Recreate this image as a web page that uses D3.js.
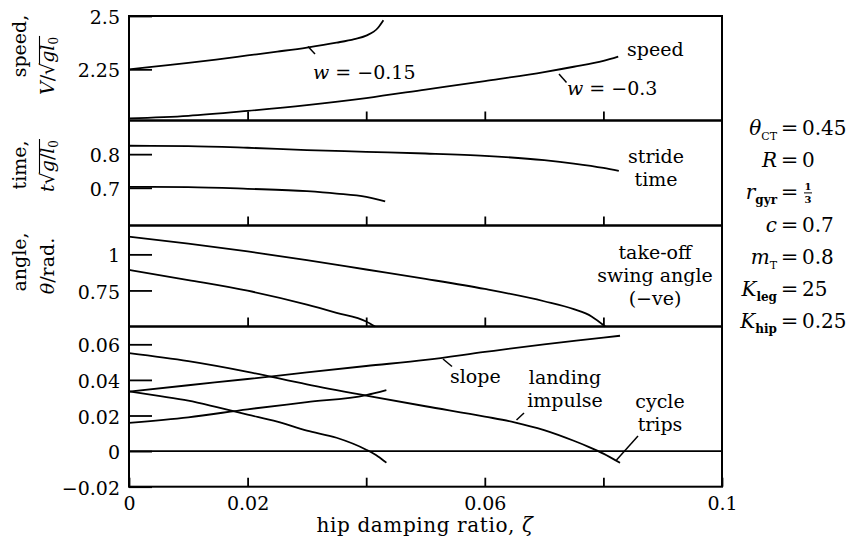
<!DOCTYPE html>
<html lang="en">
<head>
<meta charset="UTF-8">
<title>hip damping ratio</title>
<style>
  body { margin: 0; background: #fff; }
  text { font-family: "DejaVu Serif", serif; fill: #000; }
</style>
</head>
<body>
<div id="chart"></div>
<script src="https://d3js.org/d3.v7.min.js"></script>
<script>
// speed, w = -0.15 and w = -0.3
const zetaSpeed15 = [0, 0.005, 0.01, 0.015, 0.02, 0.025, 0.03, 0.035, 0.038, 0.04, 0.042, 0.0429];
const speed15     = [2.25, 2.265, 2.28, 2.297, 2.315, 2.333, 2.352, 2.375, 2.392, 2.408, 2.445, 2.48];
const zetaSpeed30 = [0, 0.01, 0.02, 0.03, 0.04, 0.05, 0.06, 0.07, 0.075, 0.08, 0.0825];
const speed30     = [2.02, 2.032, 2.055, 2.082, 2.115, 2.155, 2.195, 2.237, 2.262, 2.29, 2.31];

// stride time
const zetaTime30 = [0, 0.01, 0.02, 0.03, 0.04, 0.05, 0.06, 0.07, 0.075, 0.08, 0.0826];
const time30     = [0.825, 0.824, 0.819, 0.812, 0.807, 0.802, 0.795, 0.782, 0.772, 0.759, 0.75];
const zetaTime15 = [0, 0.01, 0.02, 0.03, 0.035, 0.04, 0.0432];
const time15     = [0.703, 0.702, 0.697, 0.69, 0.683, 0.673, 0.66];

// take-off swing angle
const zetaAngle30 = [0, 0.01, 0.02, 0.03, 0.04, 0.05, 0.06, 0.07, 0.075, 0.078, 0.0803];
const angle30     = [1.123, 1.075, 1.02, 0.96, 0.895, 0.83, 0.76, 0.675, 0.62, 0.57, 0.5];
const zetaAngle15 = [0, 0.01, 0.02, 0.03, 0.035, 0.04, 0.0415];
const angle15     = [0.892, 0.822, 0.748, 0.652, 0.595, 0.535, 0.5];

// landing impulse and slope
const zetaImpulse30 = [0, 0.01, 0.02, 0.03, 0.04, 0.05, 0.06, 0.065, 0.07, 0.075, 0.0775, 0.08, 0.0828];
const impulse30     = [0.055, 0.0505, 0.0445, 0.0375, 0.0312, 0.0252, 0.0194, 0.0162, 0.0118, 0.0058, 0.0024, -0.0014, -0.0066];
const zetaSlope30 = [0, 0.01, 0.02, 0.03, 0.04, 0.05, 0.06, 0.07, 0.08, 0.0828];
const slope30     = [0.0334, 0.037, 0.0405, 0.0442, 0.0478, 0.0512, 0.0557, 0.06, 0.0637, 0.0648];
const zetaImpulse15 = [0, 0.005, 0.01, 0.015, 0.02, 0.025, 0.03, 0.035, 0.04, 0.042, 0.0434];
const impulse15     = [0.0335, 0.031, 0.0283, 0.0245, 0.0205, 0.0165, 0.0115, 0.0075, 0.0008, -0.003, -0.0065];
const zetaSlope15 = [0, 0.01, 0.02, 0.03, 0.04, 0.0434];
const slope15     = [0.0158, 0.019, 0.0235, 0.0275, 0.0315, 0.0343];

// ticks
const speedTicks = [2.25, 2.5];
const timeTicks = [0.7, 0.8];
const angleTicks = [0.75, 1];
const impulseTicks = [-0.02, 0, 0.02, 0.04, 0.06];
const zetaTicks = [0, 0.02, 0.04, 0.06, 0.08, 0.1];
const zetaLabels = [0, 0.02, 0.06, 0.1];

const W = 854, H = 544;
const svg = d3.select("#chart").append("svg")
    .attr("width", W).attr("height", H);

const x = d3.scaleLinear().domain([0, 0.1]).range([129, 722]);

const panels = [
  {top: 16,    bottom: 120.5, domain: [2.01, 2.5],   ticks: speedTicks},
  {top: 120.5, bottom: 225.5, domain: [0.588, 0.9],  ticks: timeTicks},
  {top: 225.5, bottom: 326.5, domain: [0.5, 1.2],    ticks: angleTicks},
  {top: 326.5, bottom: 486.7, domain: [-0.02, 0.07], ticks: impulseTicks}
];
panels.forEach(p => { p.y = d3.scaleLinear().domain(p.domain).range([p.bottom, p.top]); });

const series = [
  [0, zetaSpeed15, speed15], [0, zetaSpeed30, speed30],
  [1, zetaTime30, time30], [1, zetaTime15, time15],
  [2, zetaAngle30, angle30], [2, zetaAngle15, angle15],
  [3, zetaImpulse30, impulse30], [3, zetaSlope30, slope30],
  [3, zetaImpulse15, impulse15], [3, zetaSlope15, slope15]
];

const fmt = d => String(d).replace("-", "\u2212");

panels.forEach((p, i) => {
  // y ticks, drawn inward
  const gy = svg.append("g")
      .attr("transform", `translate(${x(0)},0)`)
      .call(d3.axisLeft(p.y).tickValues(p.ticks).tickSize(-23).tickPadding(9).tickFormat(fmt));
  gy.select(".domain").remove();
  gy.selectAll("line").attr("stroke-width", 1.8);
  gy.selectAll("text").attr("font-family", "DejaVu Serif").attr("font-size", 19).attr("dy", "0.4em");

  // x ticks at the bottom of every panel
  const last = i === panels.length - 1;
  const gx = svg.append("g")
      .attr("transform", `translate(0,${p.bottom})`)
      .call(d3.axisBottom(x).tickValues(last ? zetaTicks : zetaTicks.slice(1, -1))
        .tickSize(-9).tickPadding(10)
        .tickFormat(d => last && zetaLabels.includes(d) ? fmt(d) : ""));
  gx.select(".domain").remove();
  gx.selectAll("line").attr("stroke-width", 1.8);
  gx.selectAll("text").attr("font-family", "DejaVu Serif").attr("font-size", 19);

  svg.append("rect")
      .attr("x", x(0)).attr("y", p.top)
      .attr("width", x(0.1) - x(0)).attr("height", p.bottom - p.top)
      .attr("fill", "none").attr("stroke", "#000").attr("stroke-width", 2);
});

// zero line in the bottom panel
const yImp = panels[3].y;
svg.append("line")
    .attr("x1", x(0)).attr("x2", x(0.1))
    .attr("y1", yImp(0)).attr("y2", yImp(0))
    .attr("stroke", "#000").attr("stroke-width", 1.8);

// curves
series.forEach(([pi, zs, vs]) => {
  const y = panels[pi].y;
  const line = d3.line().x(d => x(d[0])).y(d => y(d[1])).curve(d3.curveMonotoneX);
  svg.append("path")
      .datum(zs.map((z, k) => [z, vs[k]]))
      .attr("d", line)
      .attr("fill", "none").attr("stroke", "#000").attr("stroke-width", 1.8);
});

// y titles (rotated, two lines)
function yTitle(cx, cy, parts, over) {
  const g = svg.append("g").attr("transform", `translate(${cx},${cy}) rotate(-90)`);
  const t = g.append("text").attr("text-anchor", "middle").attr("font-size", 19);
  parts.forEach(([s, opt]) => {
    const ts = t.append("tspan").text(s);
    if (opt && opt.it) ts.attr("font-style", "italic");
    if (opt && opt.sub) ts.attr("font-size", 12).attr("dy", 4);
  });
  if (over) {
    const n = t.node();
    const a = n.getStartPositionOfChar(over[0]).x;
    const b = n.getEndPositionOfChar(over[1]).x;
    g.append("line").attr("x1", a - 1).attr("x2", b + 1)
        .attr("y1", -14.5).attr("y2", -14.5)
        .attr("stroke", "#000").attr("stroke-width", 1.1);
  }
}
yTitle(26, 46, [["speed,"]]);
yTitle(54, 66, [["V", {it: 1}], ["/\u221A"], ["gl", {it: 1}], ["0", {sub: 1}]], [3, 5]);
yTitle(26, 165, [["time,"]]);
yTitle(54, 166, [["t", {it: 1}], ["\u221A"], ["g", {it: 1}], ["/"], ["l", {it: 1}], ["0", {sub: 1}]], [2, 5]);
yTitle(26, 262, [["angle,"]]);
yTitle(54, 266, [["\u03B8", {it: 1}], ["/rad."]]);

// x title
svg.append("text")
    .attr("x", 425).attr("y", 532)
    .attr("text-anchor", "middle").attr("font-size", 20)
    .attr("letter-spacing", 0.6)
    .html('hip damping ratio, <tspan font-style="italic">\u03B6</tspan>');

// curve labels
function label(px, py, lines, anchor) {
  const t = svg.append("text").attr("font-size", 19).attr("text-anchor", anchor || "middle");
  lines.forEach((s, k) => {
    t.append("tspan").attr("x", px).attr("y", py + k * 23).html(s);
  });
}
function leader(x1, y1, x2, y2) {
  svg.append("line").attr("x1", x1).attr("y1", y1).attr("x2", x2).attr("y2", y2)
      .attr("stroke", "#000").attr("stroke-width", 1.5);
}
const wIt = '<tspan font-style="italic">w</tspan>';
label(313, 79, [wIt + " = \u22120.15"], "start");
leader(308, 46.5, 315, 54);
label(627, 56, ["speed"], "start");
label(567, 95, [wIt + " = \u22120.3"], "start");
leader(559, 74, 566.5, 82.5);

label(656, 163, ["stride", "time"]);
label(655, 259, ["take-off", "swing angle", "(\u2212ve)"]);

label(450, 383, ["slope"], "start");
leader(443, 359, 452, 366.5);
label(565, 384, ["landing", "impulse"]);
leader(516.5, 420, 524, 413);
label(660, 408, ["cycle", "trips"]);
leader(616.5, 460, 638, 436);

// parameter list on the right
const params = [
  ["\u03B8", "CT", "0.45"],
  ["R", "", "0"],
  ["r", "gyr", null],
  ["c", "", "0.7"],
  ["m", "T", "0.8"],
  ["K", "leg", "25"],
  ["K", "hip", "0.25"]
];
params.forEach(([v, sub, val], i) => {
  const b = 135 + i * 32.2;
  const t = svg.append("text").attr("x", 777).attr("y", b)
      .attr("text-anchor", "end").attr("font-size", 20);
  t.append("tspan").attr("font-style", "italic").text(v);
  if (sub) {
    t.append("tspan").attr("font-size", sub === "CT" || sub === "T" ? 11 : 12)
        .attr("font-weight", sub === "CT" || sub === "T" ? "normal" : "bold")
        .attr("dy", 5).text(sub);
  }
  svg.append("text").attr("x", 789.5).attr("y", b)
      .attr("text-anchor", "middle").attr("font-size", 21).text("=");
  if (val !== null) {
    svg.append("text").attr("x", 802).attr("y", b)
        .attr("font-size", 20).text(val);
  } else {
    // small stacked fraction 1/3
    svg.append("text").attr("x", 808).attr("y", b - 9.5)
        .attr("text-anchor", "middle").attr("font-size", 10).attr("font-weight", "bold").text("1");
    svg.append("line").attr("x1", 804).attr("x2", 812).attr("y1", b - 6.5).attr("y2", b - 6.5)
        .attr("stroke", "#000").attr("stroke-width", 1);
    svg.append("text").attr("x", 808).attr("y", b + 3.5)
        .attr("text-anchor", "middle").attr("font-size", 10).attr("font-weight", "bold").text("3");
  }
});
</script>
</body>
</html>
